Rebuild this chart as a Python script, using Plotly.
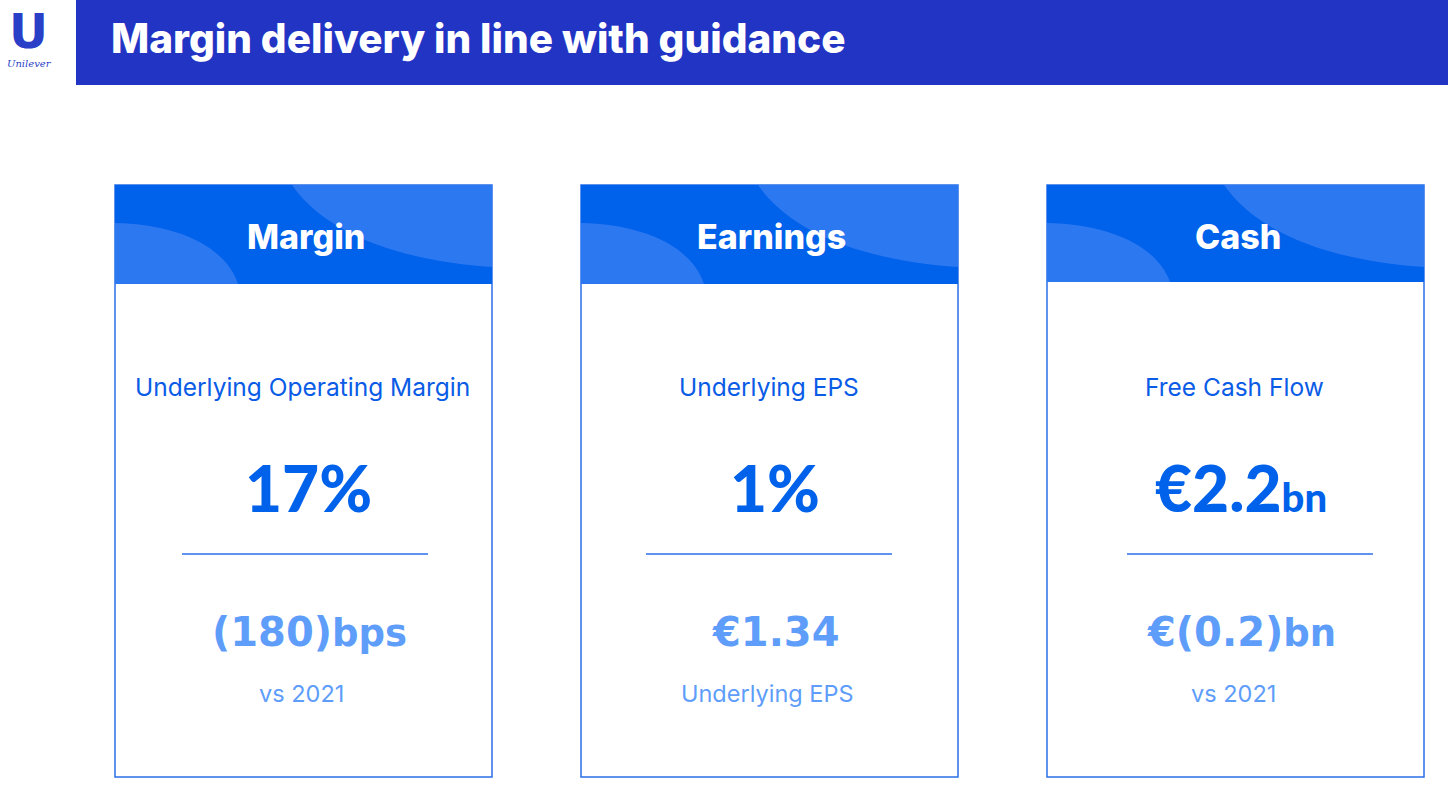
import plotly.graph_objects as go

slide_title = "Margin delivery in line with guidance"
card_titles = ["Margin", "Earnings", "Cash"]
metric_labels = ["Underlying Operating Margin", "Underlying EPS", "Free Cash Flow"]
headline_values = ["17%", "1%", "€2.2"]
headline_units = ["", "", "bn"]
change_values = ["(180)", "€1.34", "€(0.2)"]
change_units = ["bps", "", "bn"]
change_labels = ["vs 2021", "Underlying EPS", "vs 2021"]

W, H = 1448, 792
NAVY = "#2234c4"
BLUE = "#0061ea"
LIGHT = "#2b78f1"
PALE = "#5e9dfa"
TEXT = "#0a5ce6"

# layout of the three cards
card_x0 = [115, 581, 1047]
card_w = 377
divider_x0 = [182, 646, 1127]
header_bottom = [284, 284, 282]

fig = go.Figure()
shapes = []
annotations = []

# top banner
shapes.append(dict(type="rect", x0=76, x1=W + 10, y0=-10, y1=85, fillcolor=NAVY, line_width=0, layer="below"))
annotations.append(dict(x=109, y=38, text=slide_title, showarrow=False, xanchor="left",
                        font=dict(family="Inter", size=40.5, color="white", weight=800)))

# logo
annotations.append(dict(x=28, y=31, text="U", showarrow=False,
                        font=dict(family="DejaVu Sans", size=48, color="#2a3fc7", weight="bold")))
annotations.append(dict(x=29, y=63, text="<i>Unilever</i>", showarrow=False,
                        font=dict(family="DejaVu Serif", size=10, color="#2a3fc7")))

for i, x0 in enumerate(card_x0):
    x1 = x0 + card_w
    xc = x0 + card_w / 2
    hb = header_bottom[i]
    # card outline
    shapes.append(dict(type="rect", x0=x0, x1=x1, y0=185, y1=777, line=dict(color="#2a6fe8", width=1.5),
                       fillcolor="white", layer="below"))
    # header band
    shapes.append(dict(type="rect", x0=x0, x1=x1, y0=185, y1=hb, fillcolor=BLUE, line_width=0, layer="below"))
    # decorative curves
    shapes.append(dict(type="path", layer="below", line_width=0, fillcolor=LIGHT,
                       path=f"M {x0+177},185 C {x0+215},240 {x0+300},262 {x1},267 L {x1},185 Z"))
    shapes.append(dict(type="path", layer="below", line_width=0, fillcolor=LIGHT,
                       path=f"M {x0},223 C {x0+60},224 {x0+110},245 {x0+123},{hb} L {x0},{hb} Z"))
    # divider
    shapes.append(dict(type="line", x0=divider_x0[i], x1=divider_x0[i] + 246, y0=554, y1=554,
                       line=dict(color="#2a6fe8", width=1.5)))

    annotations.append(dict(x=xc + 2, y=236, text=card_titles[i], showarrow=False,
                            font=dict(family="Inter", size=34, color="white", weight=800)))
    annotations.append(dict(x=xc - 1, y=387, text=metric_labels[i], showarrow=False,
                            font=dict(family="Inter", size=24.5, color=TEXT)))
    head = headline_values[i]
    if headline_units[i]:
        head += f"<span style='font-size:40px'>{headline_units[i]}</span>"
    annotations.append(dict(x=xc + 5, y=487, text=head, showarrow=False,
                            font=dict(family="Lato", size=64, color=BLUE, weight=900)))
    chg = change_values[i]
    if change_units[i]:
        chg += f"<span style='font-size:37px'>{change_units[i]}</span>"
    annotations.append(dict(x=xc + 6, y=632, text=chg, showarrow=False,
                            font=dict(family="DejaVu Sans", size=40, color=PALE, weight="bold")))
    annotations.append(dict(x=xc - 2, y=693, text=change_labels[i], showarrow=False,
                            font=dict(family="Inter", size=23.5, color=PALE)))

fig.update_layout(
    width=W, height=H,
    margin=dict(l=0, r=0, t=0, b=0),
    paper_bgcolor="white", plot_bgcolor="white",
    xaxis=dict(range=[0, W], visible=False, fixedrange=True),
    yaxis=dict(range=[H, 0], visible=False, fixedrange=True),
    shapes=shapes, annotations=annotations,
    showlegend=False,
)

fig.write_html("out.html", config={"displayModeBar": False},
               post_script="document.body.style.margin='0';")
